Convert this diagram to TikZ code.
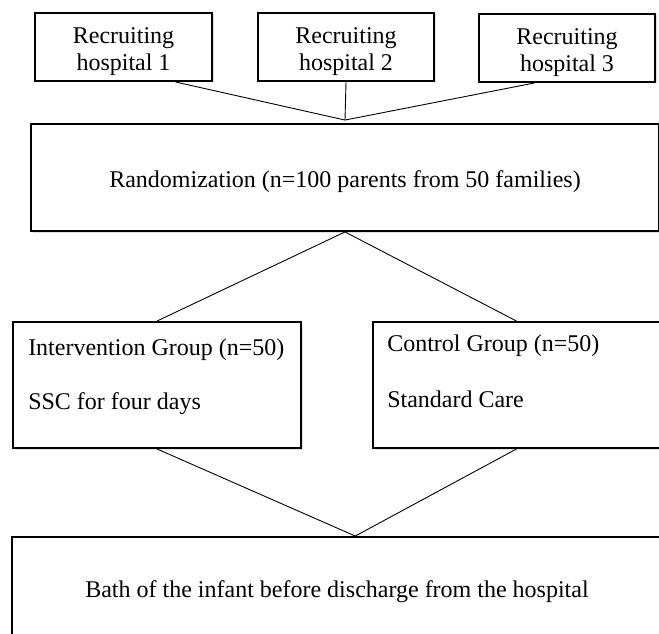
\documentclass[tikz,border=0pt]{standalone}
\usepackage{fontspec}
\setmainfont{Liberation Serif}
\usetikzlibrary{positioning,calc,shadows}

\tikzset{
  box/.style={draw, line width=1.9pt, fill=white, inner sep=0pt,
    drop shadow={shadow xshift=1.5pt, shadow yshift=-1.5pt, opacity=0.25}},
  boxtext/.style={inner sep=0pt},
  link/.style={line width=0.9pt},
}

\begin{document}
\begin{tikzpicture}[x=1pt, y=-1pt, font=\fontsize{24}{27}\selectfont]
\clip (0,0) rectangle (659,634);

% recruiting hospitals
\node[box, minimum width=177pt, minimum height=68pt] (hospA) at (123.5,47) {};
\node[box, minimum width=176pt, minimum height=68pt] (hospB) at (346,47) {};
\node[box, minimum width=176pt, minimum height=68pt] (hospC) at (567,48) {};
\node[boxtext, align=center, below=15pt of hospA.north] (hospA-txt) {Recruiting\\hospital 1};
\node[boxtext, align=center, below=15pt of hospB.north] (hospB-txt) {Recruiting\\hospital 2};
\node[boxtext, align=center, below=15pt of hospC.north] (hospC-txt) {Recruiting\\hospital 3};

% randomization
\node[box, minimum width=628pt, minimum height=107pt,
      text height=24pt, text depth=5pt] (rand) at (345,177.5)
  {Randomization (n=100 parents from 50 families)};
\coordinate (join) at ([yshift=3pt]rand.north);

% the two groups
\node[box, minimum width=288pt, minimum height=126pt] (interv) at (157,385) {};
\node[box, minimum width=287pt, minimum height=126pt] (ctrl) at (516.5,385) {};
\node[boxtext, align=left, below right=17.5pt and 16pt of interv.north west] (interv-txt)
  {Intervention Group (n=50)\\[27pt]SSC for four days};
\node[boxtext, align=left, below right=13.5pt and 15pt of ctrl.north west] (ctrl-txt)
  {Control Group (n=50)\\[29pt]Standard Care};

% outcome
\node[box, minimum width=650pt, minimum height=109pt] (bath) at (337,591.5)
  {Bath of the infant before discharge from the hospital};
\coordinate (merge) at ($(bath.north west)!0.528!(bath.north east)$);

% connectors
\draw[link] ($(hospA.south west)!0.79!(hospA.south east)$) -- (join);
\draw[link] (hospB.south) -- (join);
\draw[link] ($(hospC.south west)!0.318!(hospC.south east)$) -- (join);
\draw[link] (rand.south) -- (interv.north);
\draw[link] (rand.south) -- (ctrl.north);
\draw[link] (interv.south) -- (merge);
\draw[link] (ctrl.south) -- (merge);
\end{tikzpicture}
\end{document}
